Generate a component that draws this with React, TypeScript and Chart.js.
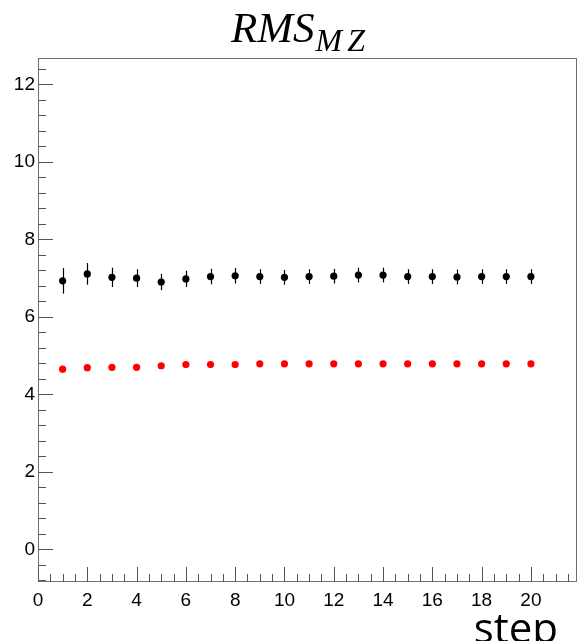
import React, { useEffect, useRef } from "react";
import { Chart, registerables } from "chart.js";

Chart.register(...registerables);

const steps = [1, 2, 3, 4, 5, 6, 7, 8, 9, 10, 11, 12, 13, 14, 15, 16, 17, 18, 19, 20];
const blackValues = [6.93, 7.11, 7.02, 7.0, 6.9, 6.98, 7.04, 7.06, 7.04, 7.02, 7.04, 7.05, 7.08, 7.08, 7.04, 7.04, 7.03, 7.04, 7.04, 7.04];
const blackErrors = [0.33, 0.28, 0.25, 0.23, 0.21, 0.21, 0.2, 0.2, 0.19, 0.19, 0.19, 0.19, 0.19, 0.19, 0.19, 0.19, 0.19, 0.19, 0.19, 0.19];
const redValues = [4.65, 4.69, 4.7, 4.7, 4.74, 4.77, 4.77, 4.77, 4.79, 4.79, 4.79, 4.79, 4.79, 4.79, 4.79, 4.79, 4.79, 4.79, 4.79, 4.79];
const xTickValues = [0, 2, 4, 6, 8, 10, 12, 14, 16, 18, 20];
const yTickValues = [0, 2, 4, 6, 8, 10, 12];
const xMinorStep = 0.5;
const yMinorStep = 0.4;
const xRange = [0, 21.87];
const yRange = [-0.84, 12.68];
const titleMain = "RMS";
const titleSub = "MZ";
const xTitle = "step";

const rootPlugin = {
  id: "rootStyle",
  beforeDatasetsDraw(chart: any) {
    const { ctx } = chart;
    const xs = chart.scales.x;
    const ys = chart.scales.y;
    ctx.save();
    ctx.strokeStyle = "#000";
    ctx.lineWidth = 1.2;
    blackValues.forEach((v, i) => {
      const px = Math.round(xs.getPixelForValue(steps[i])) + 0.5;
      ctx.beginPath();
      ctx.moveTo(px, ys.getPixelForValue(v + blackErrors[i]));
      ctx.lineTo(px, ys.getPixelForValue(v - blackErrors[i]));
      ctx.stroke();
    });
    ctx.restore();
  },
  afterDraw(chart: any) {
    const { ctx, chartArea } = chart;
    const xs = chart.scales.x;
    const ys = chart.scales.y;
    const { left, right, top, bottom } = chartArea;
    ctx.save();
    // frame
    ctx.strokeStyle = "#6f6f6f";
    ctx.lineWidth = 1;
    ctx.strokeRect(left + 0.5, top + 0.5, right - left - 1, bottom - top - 1);
    // ticks
    ctx.strokeStyle = "#555";
    ctx.beginPath();
    for (let v = xRange[0]; v <= xRange[1] + 1e-9; v += xMinorStep) {
      const px = Math.round(xs.getPixelForValue(v)) + 0.5;
      const isMajor = Math.abs(v / 2 - Math.round(v / 2)) < 1e-6;
      const len = isMajor ? 15 : 8;
      ctx.moveTo(px, bottom);
      ctx.lineTo(px, bottom - len);
    }
    const yStart = Math.ceil(yRange[0] / yMinorStep) * yMinorStep;
    for (let v = yStart; v <= yRange[1] + 1e-9; v += yMinorStep) {
      const py = Math.round(ys.getPixelForValue(v)) + 0.5;
      const isMajor = Math.abs(v / 2 - Math.round(v / 2)) < 1e-6;
      const len = isMajor ? 15 : 8;
      ctx.moveTo(left, py);
      ctx.lineTo(left + len, py);
    }
    ctx.stroke();
    // title
    ctx.fillStyle = "#000";
    ctx.textBaseline = "alphabetic";
    ctx.textAlign = "left";
    const startX = 231;
    ctx.font = "italic 43px 'Liberation Serif'";
    ctx.fillText(titleMain, startX, 42);
    const w1 = ctx.measureText(titleMain).width;
    ctx.font = "italic 32px 'Liberation Serif'";
    (ctx as any).letterSpacing = "5px";
    ctx.fillText(titleSub, startX + w1 + 1, 51);
    (ctx as any).letterSpacing = "0px";
    // x title
    ctx.font = "42px 'Open Sans'";
    ctx.textAlign = "right";
    ctx.fillText(xTitle, 558, 643);
    ctx.restore();
  },
};

export default function App() {
  const ref = useRef<HTMLCanvasElement | null>(null);
  useEffect(() => {
    document.body.style.margin = "0";
    const canvas = ref.current;
    if (!canvas) return;
    const chart = new Chart(canvas, {
      type: "scatter",
      data: {
        datasets: [
          {
            label: "black",
            data: steps.map((s, i) => ({ x: s, y: blackValues[i] })),
            backgroundColor: "#000",
            borderColor: "#000",
            pointRadius: 3.6,
            borderWidth: 0,
          },
          {
            label: "red",
            data: steps.map((s, i) => ({ x: s, y: redValues[i] })),
            backgroundColor: "#ff0000",
            borderColor: "#ff0000",
            pointRadius: 3.6,
            borderWidth: 0,
          },
        ],
      },
      options: {
        animation: false,
        responsive: false,
        devicePixelRatio: 1,
        layout: { autoPadding: false, padding: { top: 58, right: 0, left: 0, bottom: 0 } },
        plugins: { legend: { display: false }, tooltip: { enabled: false }, title: { display: false } },
        scales: {
          x: {
            type: "linear",
            min: xRange[0],
            max: xRange[1],
            grid: { display: false, drawTicks: false },
            border: { display: false },
            afterBuildTicks: (s: any) => {
              s.ticks = xTickValues.map((v) => ({ value: v }));
            },
            afterFit: (s: any) => {
              s.height = 59;
              s.paddingLeft = 0;
              s.paddingRight = 0;
            },
            ticks: {
              color: "#000",
              padding: 7,
              maxRotation: 0,
              autoSkip: false,
              font: { family: "'Liberation Sans'", size: 19 },
              callback: (v: any) => String(v),
            },
          },
          y: {
            type: "linear",
            min: yRange[0],
            max: yRange[1],
            grid: { display: false, drawTicks: false },
            border: { display: false },
            afterBuildTicks: (s: any) => {
              s.ticks = yTickValues.map((v) => ({ value: v }));
            },
            afterFit: (s: any) => {
              s.width = 38;
              s.paddingTop = 0;
              s.paddingBottom = 0;
            },
            ticks: {
              color: "#000",
              padding: 3,
              autoSkip: false,
              font: { family: "'Liberation Sans'", size: 19 },
              callback: (v: any) => String(v),
            },
          },
        },
      },
      plugins: [rootPlugin],
    });
    return () => chart.destroy();
  }, []);
  return (
    <div style={{ position: "relative", width: 577, height: 641, background: "#fff" }}>
      <canvas ref={ref} width={577} height={641} style={{ display: "block" }} />
    </div>
  );
}
